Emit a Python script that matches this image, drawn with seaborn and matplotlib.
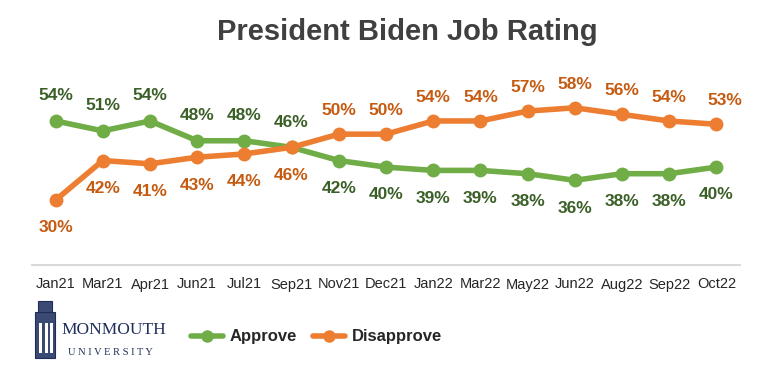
import numpy as np
import pandas as pd
import matplotlib
matplotlib.use("Agg")
import matplotlib.pyplot as plt
from matplotlib.lines import Line2D
import matplotlib.patches as mpatches
import seaborn as sns

# data
months = ['Jan21', 'Mar21', 'Apr21', 'Jun21', 'Jul21', 'Sep21', 'Nov21', 'Dec21',
          'Jan22', 'Mar22', 'May22', 'Jun22', 'Aug22', 'Sep22', 'Oct22']
approve = [54, 51, 54, 48, 48, 46, 42, 40, 39, 39, 38, 36, 38, 38, 40]
disapprove = [30, 42, 41, 43, 44, 46, 50, 50, 54, 54, 57, 58, 56, 54, 53]
series_names = ['Approve', 'Disapprove']

sns.set_style("white")
plt.rcParams['font.family'] = ['Liberation Sans', 'DejaVu Sans']

line_col = {'Approve': '#70AD47', 'Disapprove': '#ED7D31'}
text_col = {'Approve': '#3A5F27', 'Disapprove': '#C55A11'}

df = pd.DataFrame({
    'month': months * 2,
    'value': approve + disapprove,
    'series': ['Approve'] * len(months) + ['Disapprove'] * len(months),
})

fig = plt.figure(figsize=(7.68, 3.82), dpi=100)
ax = fig.add_axes([32 / 768, 1 - 265 / 382, (740 - 32) / 768, 205 / 382])

sns.lineplot(data=df, x='month', y='value', hue='series', palette=line_col,
             sort=False, marker='o', markersize=10, markeredgewidth=0,
             linewidth=4, legend=False, ax=ax)

ax.set_xlim(-0.5, len(months) - 0.5)
ax.set_ylim(10.3, 72.5)
ax.set_xlabel('')
ax.set_ylabel('')
ax.set_yticks([])
ax.tick_params(axis='x', length=0, pad=9, labelsize=10.5, labelcolor='#262626')
for s in ['top', 'left', 'right']:
    ax.spines[s].set_visible(False)
ax.spines['bottom'].set_color('#D9D9D9')
ax.spines['bottom'].set_linewidth(1.5)

# value labels: the higher series gets its label above, the other below
for i, (a, d) in enumerate(zip(approve, disapprove)):
    a_up = a >= d
    ax.annotate(f'{a}%', (i, a), xytext=(0, 18 if a_up else -20), textcoords='offset points',
                ha='center', va='center', fontsize=12.5, fontweight='bold',
                color=text_col['Approve'])
    dx = 6 if i == len(months) - 1 else 0
    ax.annotate(f'{d}%', (i, d), xytext=(dx, -20 if a_up else 17), textcoords='offset points',
                ha='center', va='center', fontsize=12.5, fontweight='bold',
                color=text_col['Disapprove'])

fig.text(0.531, 0.915, 'President Biden Job Rating', ha='center', va='center',
         fontsize=21, fontweight='bold', color='#404040')

# legend
handles = [Line2D([0], [0], color=line_col[n], lw=4, marker='o', markersize=9,
                  markeredgewidth=0) for n in series_names]
leg = fig.legend(handles, series_names, loc='center', bbox_to_anchor=(0.412, 0.118),
                 ncol=2, frameon=False, handlelength=1.9, columnspacing=1.0,
                 handletextpad=0.4, prop={'size': 12, 'weight': 'bold'})

# Monmouth University logo (text + simple tower)
navy = '#1F2D5A'
fig.text(0.080, 0.135, 'MONMOUTH', fontsize=12.5, color=navy,
         family=['Liberation Serif', 'DejaVu Serif'], va='center', ha='left')
fig.text(0.088, 0.077, 'U N I V E R S I T Y', fontsize=7.5, color=navy,
         family=['Liberation Serif', 'DejaVu Serif'], va='center', ha='left')
fig.patches.append(mpatches.Rectangle((0.046, 0.062), 0.026, 0.12, transform=fig.transFigure,
                                      facecolor='#3B4A73', edgecolor=navy, lw=0.8))
fig.patches.append(mpatches.Rectangle((0.050, 0.182), 0.018, 0.03, transform=fig.transFigure,
                                      facecolor='#3B4A73', edgecolor=navy, lw=0.8))
for xx in [0.051, 0.058, 0.065]:
    fig.patches.append(mpatches.Rectangle((xx, 0.075), 0.004, 0.08, transform=fig.transFigure,
                                          facecolor='white', edgecolor='none'))

fig.savefig('out.png', dpi=100)
